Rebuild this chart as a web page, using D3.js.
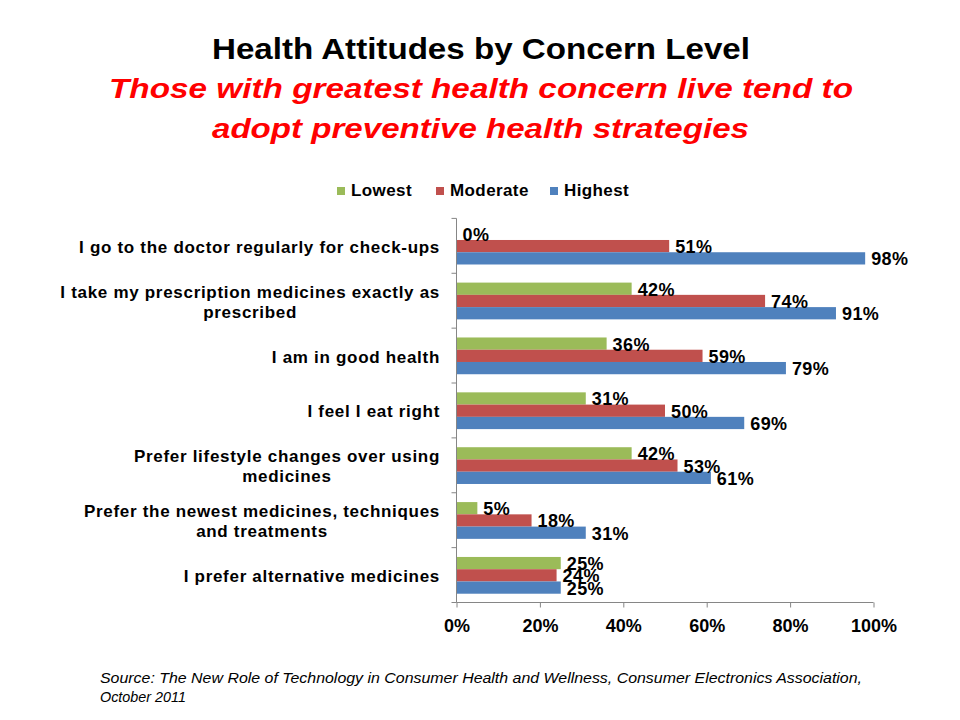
<!DOCTYPE html>
<html>
<head>
<meta charset="utf-8">
<script src="https://cdn.jsdelivr.net/npm/d3@7"></script>
<style>
  html, body { margin: 0; padding: 0; background: #fff; }
  svg { display: block; font-family: "Liberation Sans", Arial, sans-serif; }
</style>
</head>
<body>
<svg id="chart" width="960" height="720"></svg>
<script>
const categories = [
  ["I go to the doctor regularly for check-ups"],
  ["I take my prescription medicines exactly as", "prescribed"],
  ["I am in good health"],
  ["I feel I eat right"],
  ["Prefer lifestyle changes over using", "medicines"],
  ["Prefer the newest medicines, techniques", "and treatments"],
  ["I prefer alternative medicines"]
];
const seriesNames = ["Lowest", "Moderate", "Highest"];
const lowest   = [0, 42, 36, 31, 42, 5, 25];
const moderate = [51, 74, 59, 50, 53, 18, 24];
const highest  = [98, 91, 79, 69, 61, 31, 25];
const seriesColors = ["#9BBB59", "#C0504D", "#4F81BD"];
const xTicks = [0, 20, 40, 60, 80, 100];

const seriesValues = [lowest, moderate, highest];

const svg = d3.select("#chart");
const plot = { left: 456.5, right: 873.5, top: 218.4, bottom: 602.5 };

// Titles
svg.append("text").attr("x", 212).attr("y", 59)
  .attr("textLength", 538).attr("lengthAdjust", "spacingAndGlyphs")
  .style("font-size", "30px").style("font-weight", "bold").attr("fill", "#000")
  .text("Health Attitudes by Concern Level");
svg.append("text").attr("x", 109).attr("y", 98)
  .attr("textLength", 744).attr("lengthAdjust", "spacingAndGlyphs")
  .style("font-size", "27px").style("font-weight", "bold").style("font-style", "italic").attr("fill", "#FF0000")
  .text("Those with greatest health concern live tend to");
svg.append("text").attr("x", 212).attr("y", 138)
  .attr("textLength", 537).attr("lengthAdjust", "spacingAndGlyphs")
  .style("font-size", "27px").style("font-weight", "bold").style("font-style", "italic").attr("fill", "#FF0000")
  .text("adopt preventive health strategies");

// Legend
const legendX = [337, 436, 550];
const lg = svg.append("g");
seriesNames.forEach((n, i) => {
  lg.append("rect").attr("x", legendX[i]).attr("y", 187).attr("width", 8).attr("height", 8).attr("fill", seriesColors[i]);
  lg.append("text").attr("x", legendX[i] + 14).attr("y", 196)
    .style("font-size", "17px").style("font-weight", "bold").style("letter-spacing", "0.4px")
    .attr("fill", "#000").text(n);
});

// Scales
const x = d3.scaleLinear().domain([0, 100]).range([plot.left, plot.right]);
const y = d3.scaleBand().domain(d3.range(categories.length)).range([plot.top, plot.bottom]).padding(0);
const ySub = d3.scaleBand().domain(d3.range(seriesNames.length))
  .range([y.bandwidth() * 0.17, y.bandwidth() * 0.84]).padding(0);

// Bars
seriesValues.forEach((vals, s) => {
  svg.append("g").selectAll("rect").data(vals).join("rect")
    .attr("x", x(0))
    .attr("y", (d, i) => y(i) + ySub(s))
    .attr("width", d => x(d) - x(0))
    .attr("height", ySub.bandwidth())
    .attr("fill", seriesColors[s]);
});

// Axes
const axisColor = "#868686";
const xAxis = svg.append("g").attr("transform", `translate(0,${plot.bottom})`)
  .call(d3.axisBottom(x).tickValues(xTicks).tickSize(5).tickFormat(d => d + "%"));
xAxis.select(".domain").attr("stroke", axisColor).attr("d", `M${plot.left},0H${plot.right}`);
xAxis.selectAll(".tick line").attr("stroke", axisColor);
xAxis.selectAll(".tick text").attr("fill", "#000").attr("y", 0).attr("dy", 0)
  .attr("transform", "translate(0,29.5)")
  .style("font-size", "18px").style("font-weight", "bold").style("font-family", "'Liberation Sans', Arial, sans-serif");

const yAxisG = svg.append("g");
yAxisG.append("line").attr("x1", plot.left).attr("x2", plot.left).attr("y1", plot.top).attr("y2", plot.bottom).attr("stroke", axisColor);
const boundaries = d3.range(categories.length + 1).map(i => i < categories.length ? y(i) : plot.bottom);
yAxisG.selectAll("line.t").data(boundaries).join("line").attr("class", "t")
  .attr("x1", plot.left - 5).attr("x2", plot.left).attr("y1", d => d).attr("y2", d => d).attr("stroke", axisColor);

// Category labels
categories.forEach((lines, i) => {
  const cy = y(i) + y.bandwidth() / 2;
  const lh = 20;
  const firstBase = cy + 7 - (lines.length - 1) * lh / 2;
  const g = svg.append("g")
    .style("font-size", "17px").style("font-weight", "bold").style("letter-spacing", "0.7px");
  const t0 = g.append("text").attr("x", 440).attr("y", firstBase).attr("text-anchor", "end")
    .attr("fill", "#000").text(lines[0]);
  if (lines.length > 1) {
    const w = t0.node().getComputedTextLength();
    const cx = 440 - w / 2;
    t0.attr("x", cx).attr("text-anchor", "middle");
    for (let k = 1; k < lines.length; k++) {
      g.append("text").attr("x", cx).attr("y", firstBase + k * lh).attr("text-anchor", "middle")
        .attr("fill", "#000").text(lines[k]);
    }
  }
});

// Data labels
seriesValues.forEach((vals, s) => {
  svg.append("g").selectAll("text").data(vals).join("text")
    .attr("x", d => x(d) + 6)
    .attr("y", (d, i) => y(i) + ySub(s) + ySub.bandwidth() / 2 + 7)
    .style("font-size", "18px").style("font-weight", "bold").style("letter-spacing", "0.4px")
    .attr("fill", "#000")
    .text(d => d + "%");
});

// Source
svg.append("text").attr("x", 100).attr("y", 683)
  .attr("textLength", 762).attr("lengthAdjust", "spacingAndGlyphs")
  .style("font-size", "15px").style("font-style", "italic").attr("fill", "#000")
  .text("Source: The New  Role of Technology in Consumer Health and Wellness, Consumer Electronics Association,");
svg.append("text").attr("x", 100).attr("y", 702)
  .attr("textLength", 86).attr("lengthAdjust", "spacingAndGlyphs")
  .style("font-size", "15px").style("font-style", "italic").attr("fill", "#000")
  .text("October 2011");
</script>
</body>
</html>
